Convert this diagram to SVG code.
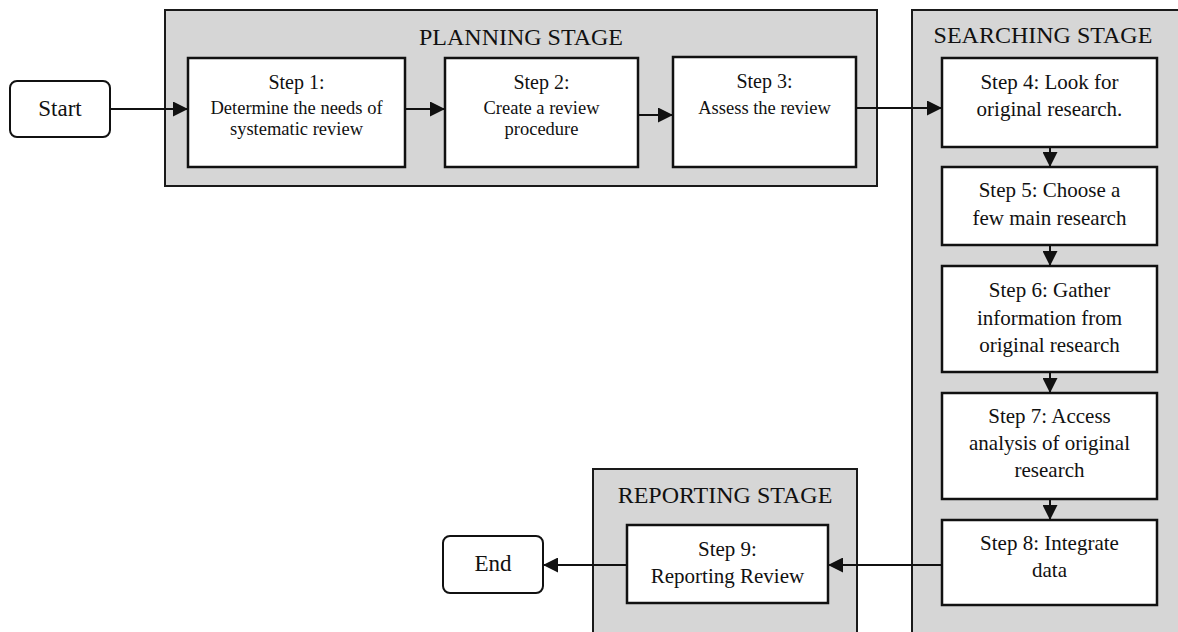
<svg xmlns="http://www.w3.org/2000/svg" width="1178" height="632" viewBox="0 0 1178 632">
<defs>
<marker id="arr" markerWidth="15" markerHeight="15" refX="15" refY="7.5" orient="auto" markerUnits="userSpaceOnUse">
<path d="M0,0 L15,7.5 L0,15 Z" fill="#111"/>
</marker>
<style>
.stage{fill:#d6d6d6;stroke:#1a1a1a;stroke-width:2}
.box{fill:#fff;stroke:#111;stroke-width:2.5}
.term{fill:#fff;stroke:#111;stroke-width:2}
text{font-family:"Liberation Serif","Times New Roman",serif;fill:#111;text-anchor:middle}
.title{font-size:24px}
.s{font-size:20px}
.d{font-size:18.5px}
.t{font-size:21px}
.big{font-size:23px}
.conn{stroke:#111;stroke-width:2;fill:none;marker-end:url(#arr)}
</style>
</defs>
<rect width="1178" height="632" fill="#fff"/>

<g id="planning-stage">
<rect class="stage" x="165" y="10" width="712" height="176"/>
<text class="title" x="521" y="45">PLANNING STAGE</text>
</g>
<g id="searching-stage">
<rect class="stage" x="912" y="10" width="280" height="640"/>
<text class="title" x="1043" y="43">SEARCHING STAGE</text>
</g>
<g id="reporting-stage">
<rect class="stage" x="593" y="469" width="264" height="180"/>
<text class="title" x="725" y="503">REPORTING STAGE</text>
</g>

<g id="start">
<rect class="term" x="10" y="81" width="100" height="56" rx="7"/>
<text class="big" x="60" y="116">Start</text>
</g>
<g id="step1">
<rect class="box" x="188" y="58" width="217" height="109"/>
<text class="s" x="296.5" y="89">Step 1:</text>
<text class="d" x="296.5" y="114">Determine the needs of</text>
<text class="d" x="296.5" y="135">systematic review</text>
</g>
<g id="step2">
<rect class="box" x="445" y="58" width="193" height="109"/>
<text class="s" x="541.5" y="89">Step 2:</text>
<text class="d" x="541.5" y="114">Create a review</text>
<text class="d" x="541.5" y="135">procedure</text>
</g>
<g id="step3">
<rect class="box" x="673" y="57" width="183" height="110"/>
<text class="s" x="764.5" y="88">Step 3:</text>
<text class="d" x="764.5" y="114">Assess the review</text>
</g>
<g id="step4">
<rect class="box" x="942" y="58" width="215" height="89"/>
<text class="t" x="1049.5" y="89">Step 4: Look for</text>
<text class="t" x="1049.5" y="116">original research.</text>
</g>
<g id="step5">
<rect class="box" x="942" y="167" width="215" height="78"/>
<text class="t" x="1049.5" y="197">Step 5: Choose a</text>
<text class="t" x="1049.5" y="225">few main research</text>
</g>
<g id="step6">
<rect class="box" x="942" y="266" width="215" height="106"/>
<text class="t" x="1049.5" y="297">Step 6: Gather</text>
<text class="t" x="1049.5" y="325">information from</text>
<text class="t" x="1049.5" y="352">original research</text>
</g>
<g id="step7">
<rect class="box" x="942" y="393" width="215" height="106"/>
<text class="t" x="1049.5" y="423">Step 7: Access</text>
<text class="t" x="1049.5" y="450">analysis of original</text>
<text class="t" x="1049.5" y="477">research</text>
</g>
<g id="step8">
<rect class="box" x="942" y="520" width="215" height="85"/>
<text class="t" x="1049.5" y="550">Step 8: Integrate</text>
<text class="t" x="1049.5" y="577">data</text>
</g>
<g id="step9">
<rect class="box" x="627" y="525" width="201" height="78"/>
<text class="t" x="727.5" y="556">Step 9:</text>
<text class="t" x="727.5" y="583">Reporting Review</text>
</g>
<g id="end">
<rect class="term" x="443" y="536" width="100" height="57" rx="7"/>
<text class="big" x="493" y="571">End</text>
</g>

<g id="connectors">
<line class="conn" x1="111" y1="109" x2="188" y2="109"/>
<line class="conn" x1="406" y1="109" x2="445" y2="109"/>
<line class="conn" x1="639" y1="115" x2="673" y2="115"/>
<line class="conn" x1="857" y1="108" x2="942" y2="108"/>
<line class="conn" x1="1050" y1="148" x2="1050" y2="167"/>
<line class="conn" x1="1050" y1="246" x2="1050" y2="266"/>
<line class="conn" x1="1050" y1="373" x2="1050" y2="393"/>
<line class="conn" x1="1050" y1="500" x2="1050" y2="520"/>
<line class="conn" x1="941" y1="565" x2="828" y2="565"/>
<line class="conn" x1="626" y1="565" x2="543" y2="565"/>
</g>
</svg>
